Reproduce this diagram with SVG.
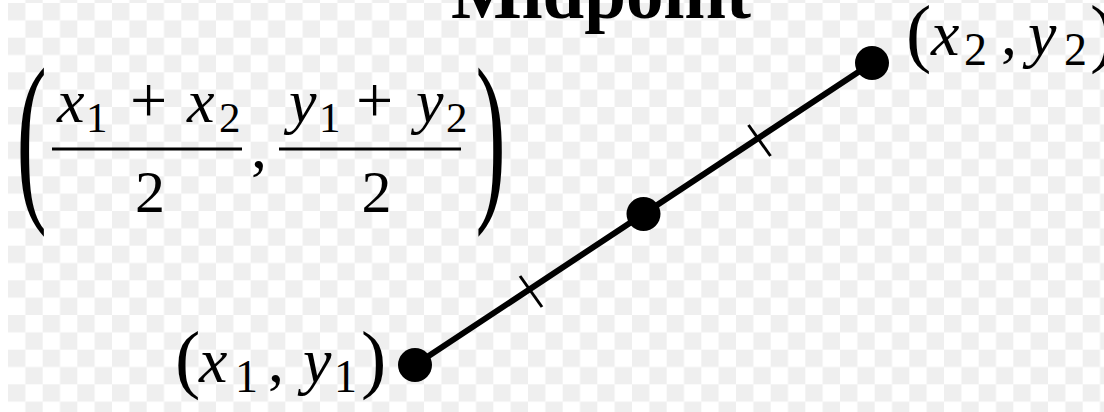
<svg xmlns="http://www.w3.org/2000/svg" width="1104" height="412" viewBox="0 0 1104 412">
<defs>
<pattern id="chk" patternUnits="userSpaceOnUse" x="8" y="3" width="34.667" height="34.667">
<rect width="34.667" height="34.667" fill="#ffffff"/>
<rect width="17.333" height="17.333" fill="#efefef"/>
<rect x="17.333" y="17.333" width="17.333" height="17.333" fill="#efefef"/>
</pattern>
</defs>
<style>
.m{font-family:"Liberation Serif","Times New Roman",serif;fill:#000}
.i{font-style:italic}
.ttl{font-family:"Liberation Serif","Times New Roman",serif;font-weight:bold;font-size:75px;fill:#000}
.dot{fill:#000}
.seg{stroke:#000;stroke-width:6;stroke-linecap:round;fill:none}
.tick{stroke:#000;stroke-width:3;fill:none}
.bar{stroke:#000;stroke-width:3}
</style>
<rect width="1104" height="412" fill="url(#chk)"/>
<rect width="8" height="412" fill="#ffffff"/>

<g id="title"><text class="ttl" x="601" y="18" text-anchor="middle">Midpoint</text></g>

<g id="connectors">
<line class="seg" x1="415" y1="365" x2="872" y2="63"/>
<line class="tick" x1="520" y1="276" x2="542" y2="307"/>
<line class="tick" x1="748.5" y1="125" x2="770.5" y2="156"/>
</g>

<g id="point1"><circle class="dot" cx="415" cy="365" r="17"/></g>
<g id="midpoint"><circle class="dot" cx="643.5" cy="214" r="17"/></g>
<g id="point2"><circle class="dot" cx="872" cy="63" r="17"/></g>

<g id="label1">
<text class="m" font-size="64"><tspan x="175" y="384" font-size="76">(</tspan><tspan class="i" x="199" y="382">x</tspan><tspan x="235" y="392" font-size="46">1</tspan><tspan x="268" y="382">,</tspan><tspan class="i" x="303" y="382">y</tspan><tspan x="334" y="392" font-size="46">1</tspan><tspan x="361" y="384" font-size="76">)</tspan></text>
</g>

<g id="label2">
<text class="m" font-size="64"><tspan x="906" y="58" font-size="76">(</tspan><tspan class="i" x="931" y="55">x</tspan><tspan x="964" y="65" font-size="46">2</tspan><tspan x="1001" y="55">,</tspan><tspan class="i" x="1028" y="55">y</tspan><tspan x="1064" y="65" font-size="46">2</tspan><tspan x="1090" y="58" font-size="76">)</tspan></text>
</g>

<g id="formula">
<text class="m" font-size="70" transform="translate(16.5,197.4) scale(1.3,2.65)">(</text>
<text class="m" font-size="70" transform="translate(475.5,197.4) scale(1.3,2.65)">)</text>
<text class="m" font-size="62" y="122"><tspan class="i" x="57">x</tspan><tspan x="86" y="132" font-size="43">1</tspan><tspan x="130" y="122" font-size="66">+</tspan><tspan class="i" x="187" y="122">x</tspan><tspan x="219" y="132" font-size="43">2</tspan></text>
<line class="bar" x1="52" y1="149" x2="242" y2="149"/>
<text class="m" font-size="60" x="150" y="212" text-anchor="middle">2</text>
<text class="m" font-size="64" x="251" y="168">,</text>
<text class="m" font-size="62" y="122"><tspan class="i" x="289">y</tspan><tspan x="319" y="132" font-size="43">1</tspan><tspan x="356" y="122" font-size="66">+</tspan><tspan class="i" x="416" y="122">y</tspan><tspan x="446" y="132" font-size="43">2</tspan></text>
<line class="bar" x1="279" y1="149" x2="461" y2="149"/>
<text class="m" font-size="60" x="376.5" y="212" text-anchor="middle">2</text>
</g>
</svg>
